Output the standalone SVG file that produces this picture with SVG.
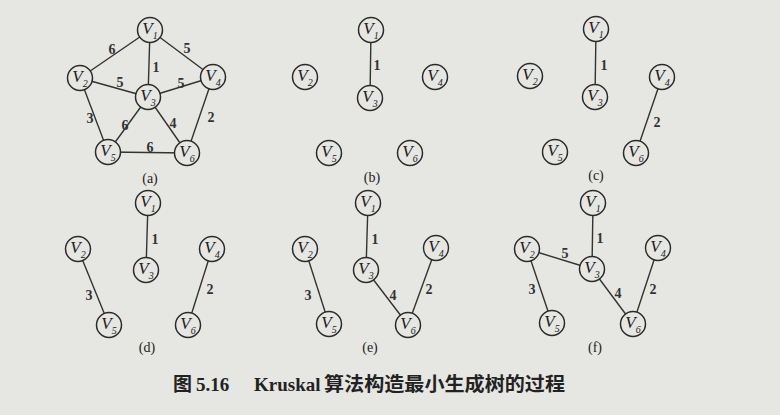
<svg xmlns="http://www.w3.org/2000/svg" width="780" height="415" viewBox="0 0 780 415">
<style>
.bg{fill:#e6e6e3}
.n circle{fill:#e6e6e3;stroke:#2b2b2b;stroke-width:1.5}
.n text{font-family:"Liberation Serif",serif;font-style:italic;font-size:17px;fill:#222;text-anchor:middle}
.n tspan{font-size:10px}
.e line{stroke:#333;stroke-width:1.4}
.w{font-family:"Liberation Serif",serif;font-size:14px;font-weight:bold;fill:#333;text-anchor:middle}
.p{font-family:"Liberation Serif",serif;font-size:14px;fill:#222;text-anchor:middle}
.cap{font-family:"Liberation Serif","Noto Sans CJK SC",serif;font-size:19px;font-weight:bold;fill:#222}
</style>
<rect class="bg" x="0" y="0" width="780" height="415"/>
<g id="connectors" class="e">
<line x1="150" y1="30" x2="80" y2="78"/>
<line x1="150" y1="30" x2="148" y2="97"/>
<line x1="150" y1="30" x2="213" y2="77"/>
<line x1="80" y1="78" x2="148" y2="97"/>
<line x1="148" y1="97" x2="213" y2="77"/>
<line x1="80" y1="78" x2="108" y2="152"/>
<line x1="148" y1="97" x2="108" y2="152"/>
<line x1="148" y1="97" x2="187" y2="153"/>
<line x1="213" y1="77" x2="187" y2="153"/>
<line x1="108" y1="152" x2="187" y2="153"/>
<line x1="371" y1="30" x2="370" y2="98"/>
<line x1="596" y1="29" x2="595" y2="97"/>
<line x1="662" y1="77" x2="636" y2="153"/>
<line x1="148" y1="203" x2="146" y2="270"/>
<line x1="78" y1="249" x2="109" y2="325"/>
<line x1="212" y1="249" x2="188" y2="325"/>
<line x1="368" y1="203" x2="366" y2="270"/>
<line x1="305" y1="249" x2="329" y2="324"/>
<line x1="366" y1="270" x2="408" y2="325"/>
<line x1="436" y1="248" x2="408" y2="325"/>
<line x1="593" y1="203" x2="592" y2="269"/>
<line x1="527" y1="249" x2="592" y2="269"/>
<line x1="527" y1="249" x2="552" y2="323"/>
<line x1="592" y1="269" x2="633" y2="324"/>
<line x1="658" y1="248" x2="633" y2="324"/>
</g>
<g id="weights">
<text class="w" x="112" y="54">6</text>
<text class="w" x="187" y="53">5</text>
<text class="w" x="156" y="72">1</text>
<text class="w" x="120" y="87">5</text>
<text class="w" x="181" y="88">5</text>
<text class="w" x="90" y="123">3</text>
<text class="w" x="125" y="130">6</text>
<text class="w" x="173" y="128">4</text>
<text class="w" x="211" y="122">2</text>
<text class="w" x="150" y="152">6</text>
<text class="w" x="377" y="70">1</text>
<text class="w" x="604" y="70">1</text>
<text class="w" x="657" y="127">2</text>
<text class="w" x="155" y="244">1</text>
<text class="w" x="89" y="300">3</text>
<text class="w" x="210" y="294">2</text>
<text class="w" x="375" y="244">1</text>
<text class="w" x="308" y="300">3</text>
<text class="w" x="393" y="300">4</text>
<text class="w" x="429" y="294">2</text>
<text class="w" x="600" y="243">1</text>
<text class="w" x="565" y="258">5</text>
<text class="w" x="532" y="294">3</text>
<text class="w" x="618" y="298">4</text>
<text class="w" x="653" y="294">2</text>
</g>
<g id="a-v1" class="n"><circle cx="150" cy="30" r="12.5"/><text x="150" y="34">V<tspan dy="5">1</tspan></text></g>
<g id="a-v2" class="n"><circle cx="80" cy="78" r="12.5"/><text x="80" y="82">V<tspan dy="5">2</tspan></text></g>
<g id="a-v3" class="n"><circle cx="148" cy="97" r="12.5"/><text x="148" y="101">V<tspan dy="5">3</tspan></text></g>
<g id="a-v4" class="n"><circle cx="213" cy="77" r="12.5"/><text x="213" y="81">V<tspan dy="5">4</tspan></text></g>
<g id="a-v5" class="n"><circle cx="108" cy="152" r="12.5"/><text x="108" y="156">V<tspan dy="5">5</tspan></text></g>
<g id="a-v6" class="n"><circle cx="187" cy="153" r="12.5"/><text x="187" y="157">V<tspan dy="5">6</tspan></text></g>
<g id="b-v1" class="n"><circle cx="371" cy="30" r="12.5"/><text x="371" y="34">V<tspan dy="5">1</tspan></text></g>
<g id="b-v2" class="n"><circle cx="305" cy="77" r="12.5"/><text x="305" y="81">V<tspan dy="5">2</tspan></text></g>
<g id="b-v3" class="n"><circle cx="370" cy="98" r="12.5"/><text x="370" y="102">V<tspan dy="5">3</tspan></text></g>
<g id="b-v4" class="n"><circle cx="435" cy="77" r="12.5"/><text x="435" y="81">V<tspan dy="5">4</tspan></text></g>
<g id="b-v5" class="n"><circle cx="329" cy="153" r="12.5"/><text x="329" y="157">V<tspan dy="5">5</tspan></text></g>
<g id="b-v6" class="n"><circle cx="410" cy="153" r="12.5"/><text x="410" y="157">V<tspan dy="5">6</tspan></text></g>
<g id="c-v1" class="n"><circle cx="596" cy="29" r="12.5"/><text x="596" y="33">V<tspan dy="5">1</tspan></text></g>
<g id="c-v2" class="n"><circle cx="530" cy="76" r="12.5"/><text x="530" y="80">V<tspan dy="5">2</tspan></text></g>
<g id="c-v3" class="n"><circle cx="595" cy="97" r="12.5"/><text x="595" y="101">V<tspan dy="5">3</tspan></text></g>
<g id="c-v4" class="n"><circle cx="662" cy="77" r="12.5"/><text x="662" y="81">V<tspan dy="5">4</tspan></text></g>
<g id="c-v5" class="n"><circle cx="555" cy="152" r="12.5"/><text x="555" y="156">V<tspan dy="5">5</tspan></text></g>
<g id="c-v6" class="n"><circle cx="636" cy="153" r="12.5"/><text x="636" y="157">V<tspan dy="5">6</tspan></text></g>
<g id="d-v1" class="n"><circle cx="148" cy="203" r="12.5"/><text x="148" y="207">V<tspan dy="5">1</tspan></text></g>
<g id="d-v2" class="n"><circle cx="78" cy="249" r="12.5"/><text x="78" y="253">V<tspan dy="5">2</tspan></text></g>
<g id="d-v3" class="n"><circle cx="146" cy="270" r="12.5"/><text x="146" y="274">V<tspan dy="5">3</tspan></text></g>
<g id="d-v4" class="n"><circle cx="212" cy="249" r="12.5"/><text x="212" y="253">V<tspan dy="5">4</tspan></text></g>
<g id="d-v5" class="n"><circle cx="109" cy="325" r="12.5"/><text x="109" y="329">V<tspan dy="5">5</tspan></text></g>
<g id="d-v6" class="n"><circle cx="188" cy="325" r="12.5"/><text x="188" y="329">V<tspan dy="5">6</tspan></text></g>
<g id="e-v1" class="n"><circle cx="368" cy="203" r="12.5"/><text x="368" y="207">V<tspan dy="5">1</tspan></text></g>
<g id="e-v2" class="n"><circle cx="305" cy="249" r="12.5"/><text x="305" y="253">V<tspan dy="5">2</tspan></text></g>
<g id="e-v3" class="n"><circle cx="366" cy="270" r="12.5"/><text x="366" y="274">V<tspan dy="5">3</tspan></text></g>
<g id="e-v4" class="n"><circle cx="436" cy="248" r="12.5"/><text x="436" y="252">V<tspan dy="5">4</tspan></text></g>
<g id="e-v5" class="n"><circle cx="329" cy="324" r="12.5"/><text x="329" y="328">V<tspan dy="5">5</tspan></text></g>
<g id="e-v6" class="n"><circle cx="408" cy="325" r="12.5"/><text x="408" y="329">V<tspan dy="5">6</tspan></text></g>
<g id="f-v1" class="n"><circle cx="593" cy="203" r="12.5"/><text x="593" y="207">V<tspan dy="5">1</tspan></text></g>
<g id="f-v2" class="n"><circle cx="527" cy="249" r="12.5"/><text x="527" y="253">V<tspan dy="5">2</tspan></text></g>
<g id="f-v3" class="n"><circle cx="592" cy="269" r="12.5"/><text x="592" y="273">V<tspan dy="5">3</tspan></text></g>
<g id="f-v4" class="n"><circle cx="658" cy="248" r="12.5"/><text x="658" y="252">V<tspan dy="5">4</tspan></text></g>
<g id="f-v5" class="n"><circle cx="552" cy="323" r="12.5"/><text x="552" y="327">V<tspan dy="5">5</tspan></text></g>
<g id="f-v6" class="n"><circle cx="633" cy="324" r="12.5"/><text x="633" y="328">V<tspan dy="5">6</tspan></text></g>
<g id="panel-labels">
<text class="p" x="150" y="183">(a)</text>
<text class="p" x="372" y="182">(b)</text>
<text class="p" x="596" y="180">(c)</text>
<text class="p" x="147" y="352">(d)</text>
<text class="p" x="370" y="352">(e)</text>
<text class="p" x="595" y="352">(f)</text>
</g>
<g id="caption">
<text class="cap" x="173" y="391">图</text>
<text class="cap" x="196" y="391">5.16</text>
<text class="cap" x="254" y="391">Kruskal</text>
<text class="cap" x="324" y="391" textLength="241" lengthAdjust="spacingAndGlyphs">算法构造最小生成树的过程</text>
</g>
</svg>
